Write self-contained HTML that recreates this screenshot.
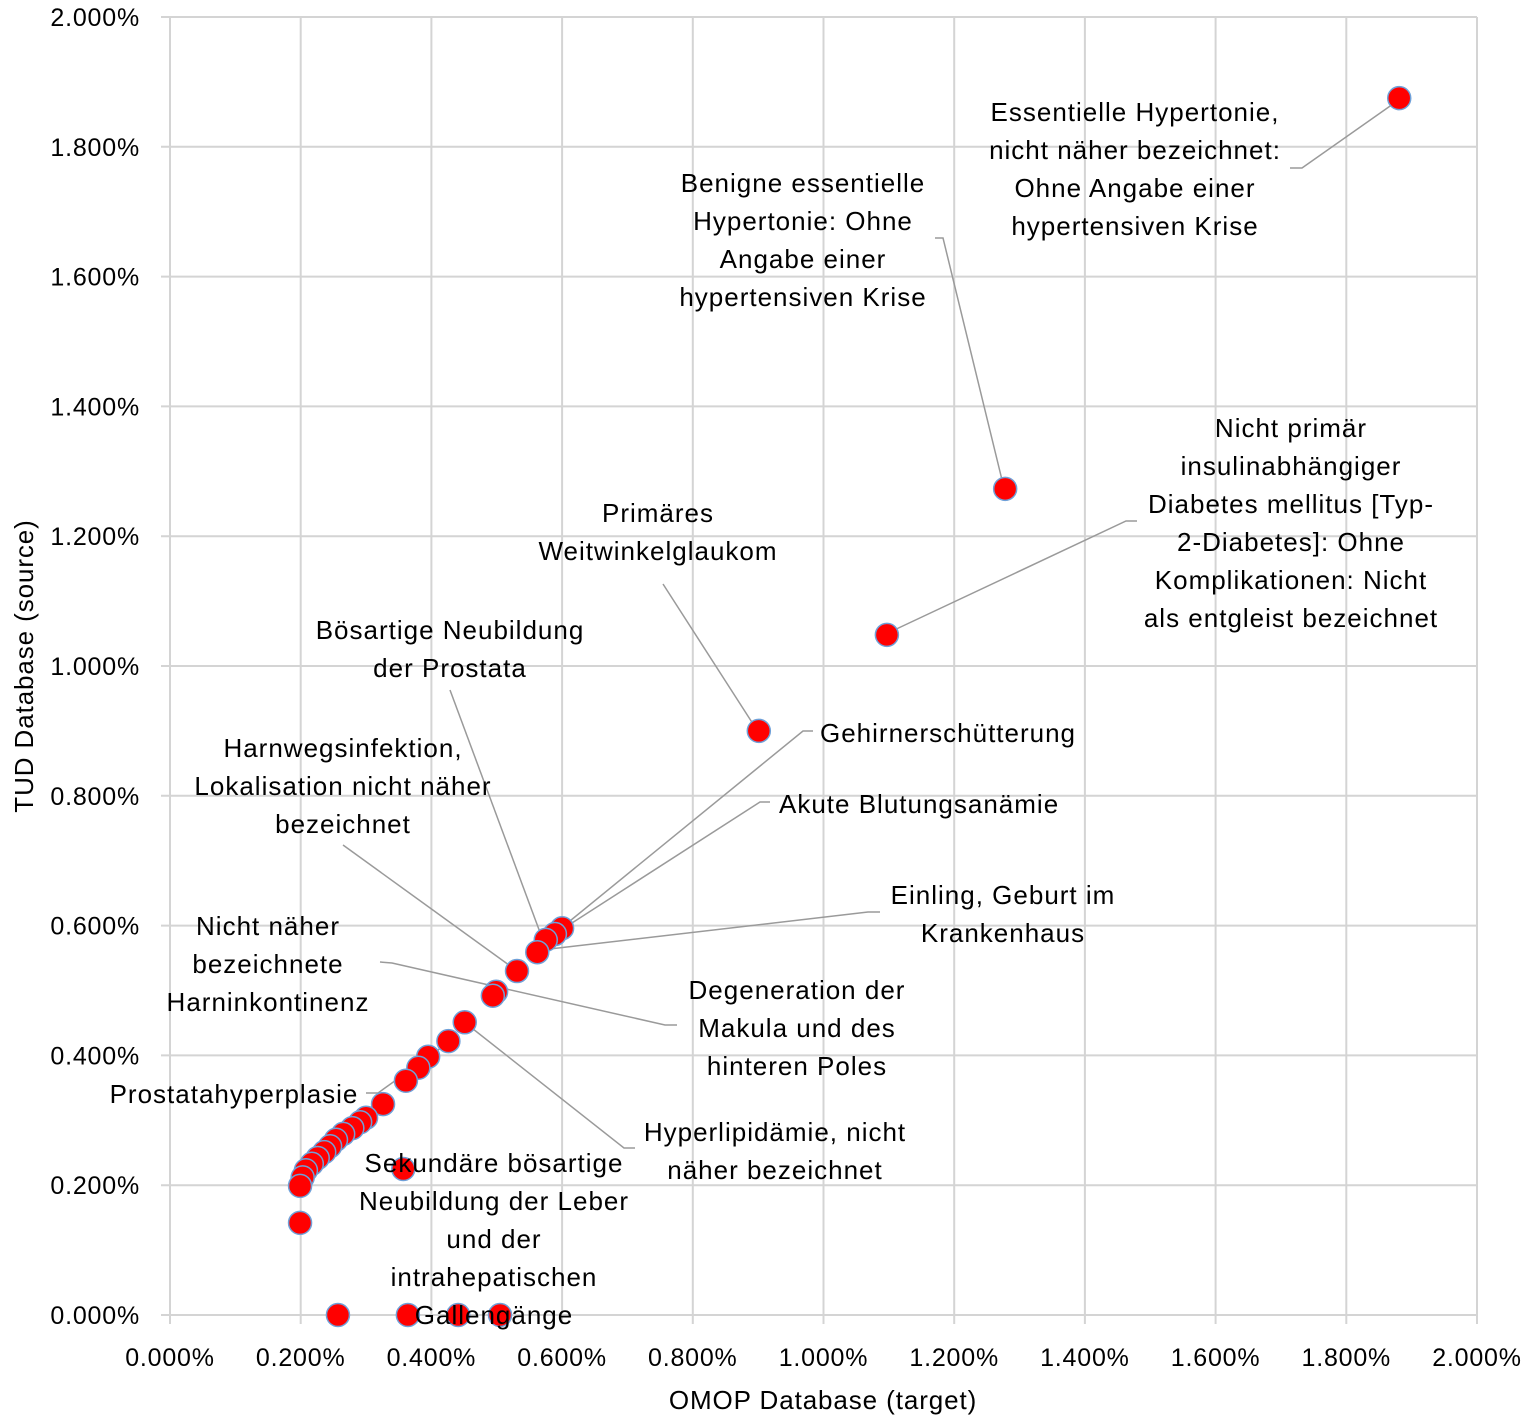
<!DOCTYPE html>
<html><head><meta charset="utf-8"><style>
html,body{margin:0;padding:0;background:#fff;}
svg{display:block;font-family:"Liberation Sans",sans-serif;}
</style></head><body>
<svg id="chart" width="1535" height="1426">
<g id="grid"></g><g id="ticks"></g><g id="leaders"></g><g id="points"></g><g id="labels"></g>
<text x="823" y="1409" font-size="26" letter-spacing="0.9" text-anchor="middle">OMOP Database (target)</text>
<text transform="translate(33,666) rotate(-90)" font-size="26" letter-spacing="0.9" text-anchor="middle">TUD Database (source)</text>
</svg>
<script>
const xTicks=[0,0.2,0.4,0.6,0.8,1.0,1.2,1.4,1.6,1.8,2.0];
const yTicks=[0,0.2,0.4,0.6,0.8,1.0,1.2,1.4,1.6,1.8,2.0];
const omopX=[1.881,1.278,1.097,0.901,0.600,0.589,0.575,0.562,0.531,0.499,0.494,0.451,0.426,0.395,0.380,0.361,0.326,0.300,0.291,0.279,0.265,0.254,0.245,0.236,0.226,0.217,0.208,0.203,0.199,0.199,0.357,0.257,0.364,0.441,0.505];
const tudY=[1.875,1.273,1.048,0.900,0.596,0.587,0.578,0.559,0.530,0.498,0.492,0.451,0.422,0.398,0.381,0.361,0.325,0.304,0.297,0.288,0.279,0.270,0.260,0.251,0.242,0.233,0.223,0.212,0.199,0.142,0.225,0,0,0,0];
const X0=170,X1=1477,Y0=1315,Y1=17;
const xs=v=>X0+(X1-X0)*v/2.0;
const ys=v=>Y0-(Y0-Y1)*v/2.0;
const NS="http://www.w3.org/2000/svg";
function mk(tag,attrs,parent){const e=document.createElementNS(NS,tag);for(const k in attrs)e.setAttribute(k,attrs[k]);parent.appendChild(e);return e;}
const grid=document.getElementById('grid'),ticks=document.getElementById('ticks');
xTicks.forEach(t=>{
  const l=mk('line',{x1:xs(t),x2:xs(t),y1:Y1,y2:Y0+9,stroke:'#d4d4d4','stroke-width':2},grid);
  
  
  const tx=mk('text',{x:xs(t),y:1366,'font-size':25,'letter-spacing':0.8,'text-anchor':'middle'},ticks);
  tx.textContent=t.toFixed(3)+'%';
  
  
});
yTicks.forEach(t=>{
  const l=mk('line',{x1:X0-9,x2:X1,y1:ys(t),y2:ys(t),stroke:'#d4d4d4','stroke-width':2},grid);
  
  
  const tx=mk('text',{x:140,y:ys(t)+9,'font-size':25,'letter-spacing':0.8,'text-anchor':'end'},ticks);
  tx.textContent=t.toFixed(3)+'%';
  
  
});
const pts=document.getElementById('points');
omopX.forEach((v,i)=>{
  const c=mk('circle',{cx:xs(v),cy:ys(tudY[i]),r:11.5,fill:'#ff0000',stroke:'#6fa0d8','stroke-width':1.5},pts);
  
  
});
const leaders=[
 [[1290,168],[1302,168],[1393,104]],
 [[935,238],[943,238],[1003,484]],
 [[1137,521],[1126,521],[890,632]],
 [[663,584],[755,727]],
 [[450,690],[541,935]],
 [[813,731],[803,731],[565,925]],
 [[770,802],[760,802],[558,932]],
 [[880,912],[868,912],[541,950]],
 [[343,845],[513,968]],
 [[380,962],[392,963],[665,1025],[677,1025]],
 [[635,1148],[624,1148],[468,1025]],
 [[366,1093],[378,1093],[445,1045]]
];
const lg=document.getElementById('leaders');
leaders.forEach(p=>{
  const pl=mk('polyline',{points:p.map(q=>q.join(',')).join(' '),fill:'none',stroke:'#9a9a9a','stroke-width':1.5},lg);
  
  
});
const labels=[
 [1135,'middle',[112,150,188,226],['Essentielle Hypertonie,','nicht näher bezeichnet:','Ohne Angabe einer','hypertensiven Krise']],
 [803,'middle',[183,221,259,297],['Benigne essentielle','Hypertonie: Ohne','Angabe einer','hypertensiven Krise']],
 [1291,'middle',[428,466,504,542,580,618],['Nicht primär','insulinabhängiger','Diabetes mellitus [Typ-','2-Diabetes]: Ohne','Komplikationen: Nicht','als entgleist bezeichnet']],
 [658,'middle',[513,551],['Primäres','Weitwinkelglaukom']],
 [450,'middle',[630,668],['Bösartige Neubildung','der Prostata']],
 [343,'middle',[748,786,824],['Harnwegsinfektion,','Lokalisation nicht näher','bezeichnet']],
 [820,'start',[733],['Gehirnerschütterung']],
 [779,'start',[804],['Akute Blutungsanämie']],
 [1003,'middle',[895,933],['Einling, Geburt im','Krankenhaus']],
 [268,'middle',[926,964,1002],['Nicht näher','bezeichnete','Harninkontinenz']],
 [797,'middle',[990,1028,1066],['Degeneration der','Makula und des','hinteren Poles']],
 [234,'middle',[1094],['Prostatahyperplasie']],
 [775,'middle',[1132,1170],['Hyperlipidämie, nicht','näher bezeichnet']],
 [494,'middle',[1163,1201,1239,1277,1315],['Sekundäre bösartige','Neubildung der Leber','und der','intrahepatischen','Gallengänge']]
];
const lb=document.getElementById('labels');
labels.forEach(L=>{
  L[3].forEach((s,i)=>{
    const t=mk('text',{x:L[0],y:L[2][i]+9,'font-size':26,'letter-spacing':1,'text-anchor':L[1]},lb);
    t.textContent=s;
    
    
  });
});
</script>
</body></html>
